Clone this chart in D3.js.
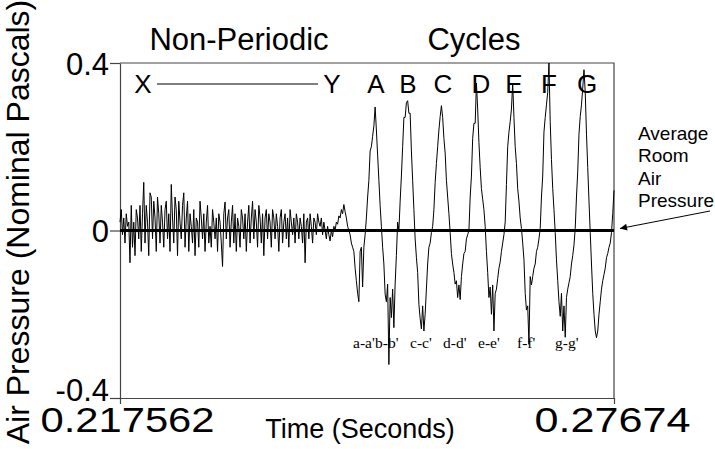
<!DOCTYPE html>
<html>
<head>
<meta charset="utf-8">
<script src="https://cdn.jsdelivr.net/npm/d3@7"></script>
<style>
  html, body { margin: 0; padding: 0; background: #fff; }
  svg { display: block; }
  text { font-family: "Liberation Sans", Arial, sans-serif; fill: #000; }
</style>
</head>
<body>
<svg id="chart" width="715" height="449"></svg>
<script>
// ---------- data ----------
const timeStart = 0.217562;
const timeEnd = 0.27674;
const xTickValues = [0.217562, 0.27674];
const xTickLabels = ["0.217562", "0.27674"];
const yTickValues = [-0.4, 0, 0.4];
const yTickLabels = ["-0.4", "0", "0.4"];

// Non-periodic part (nominal Pascals)
const nonPeriodicValues = [
  0.02, 0.05, -0.01, 0.03, -0.03, 0.04, 0.01, 0.02, -0.077, 0.06,
  -0.04, 0.02, -0.06, 0.05, 0.03, -0.02, 0.06, -0.05, 0.04, 0.115,
  -0.03, 0.06, 0.02, -0.06, 0.09, 0.08, -0.02, 0.07, 0.03, -0.05,
  0.08, 0.04, -0.03, 0.06, 0.02, -0.04, 0.05, 0.07, -0.02, 0.04,
  -0.05, 0.11, 0.03, -0.03, 0.08, 0.05, -0.06, 0.07, 0.02, -0.02,
  0.06, 0.09, -0.04, 0.03, 0.07, -0.05, 0.04, 0.01, -0.03, 0.05,
  -0.06, 0.03, 0.02, -0.04, 0.07, 0.03, -0.02, 0.04, -0.05, 0.02,
  0.06, -0.03, 0.01, -0.04, 0.05, 0.02, -0.02, 0.03, -0.05, 0.04,
  0.02, -0.03, -0.086, 0.04, 0.068, -0.02, 0.03, 0.05, -0.04, 0.02,
  0.06, -0.03, 0.04, -0.05, 0.03, 0.01, -0.04, 0.05, 0.03, -0.02,
  0.04, -0.05, 0.02, 0.06, -0.03, 0.03, 0.07, -0.02, 0.05, 0.02,
  -0.04, 0.06, 0.03, -0.03, 0.04, -0.06, 0.03, 0.05, -0.02, 0.04,
  0.02, -0.04, 0.05, 0.03, -0.02, 0.04, 0.01, -0.05, 0.03, 0.05,
  -0.03, 0.02, 0.04, -0.02, 0.03, -0.04, 0.05, 0.02, -0.01, 0.03,
  -0.03, 0.04, 0.02, -0.02, 0.03, 0.01, -0.03, 0.04, -0.077, 0.02,
  0.03, -0.02, 0.04, 0.01, -0.03, 0.03, 0.02, -0.01, 0.04, 0.02,
  0.01, 0.03, -0.01, 0.02, 0.0, -0.02, 0.01, -0.01, -0.025, 0.0,
  -0.015, 0.01, 0.0, 0.02, 0.015, 0.035, 0.03, 0.05, 0.04, 0.062,
  0.045, 0.03, 0.01
];

// Periodic part (cycles A..G)
const cycleValues = [
  0.0, -0.01, -0.03, -0.04, -0.05, -0.09, -0.12, -0.15, -0.17, -0.05,
  -0.04, -0.135, -0.04, -0.01, 0.03, 0.08, 0.12, 0.19, 0.2, 0.225,
  0.25, 0.295, 0.24, 0.18, 0.12, 0.06, 0.01, -0.04, -0.08, -0.152,
  -0.17, -0.128, -0.32, -0.16, -0.208, -0.14, -0.232, -0.128, -0.06, 0.02,
  0.0, 0.07, 0.13, 0.2, 0.27, 0.27, 0.305, 0.31, 0.28, 0.28,
  0.19, 0.12, 0.05, -0.02, -0.064, -0.1, -0.176, -0.21, -0.235, -0.18,
  -0.24, -0.2, -0.14, -0.08, -0.04, -0.03, -0.005, 0.01, 0.05, 0.115,
  0.16, 0.2, 0.24, 0.272, 0.298, 0.27, 0.22, 0.185, 0.12, 0.08,
  0.04, -0.005, -0.055, -0.08, -0.1, -0.128, -0.12, -0.16, -0.13, -0.165,
  -0.11, -0.08, -0.055, -0.05, -0.02, -0.01, 0.0, 0.08, 0.13, 0.22,
  0.256, 0.256, 0.352, 0.29, 0.21, 0.15, 0.1, 0.075, 0.05, 0.01,
  -0.05, -0.1, -0.16, -0.135, -0.2, -0.13, -0.24, -0.15, -0.14, -0.115,
  -0.09, -0.075, -0.05, -0.03, -0.01, 0.02, 0.11, 0.2, 0.235, 0.26,
  0.29, 0.352, 0.27, 0.2, 0.16, 0.1, 0.07, 0.03, 0.005, -0.03,
  -0.07, -0.15, -0.19, -0.18, -0.272, -0.11, -0.13, -0.11, -0.09, -0.08,
  -0.05, -0.04, -0.02, 0.005, 0.08, 0.13, 0.235, 0.27, 0.3, 0.33,
  0.4, 0.26, 0.17, 0.1, 0.05, -0.005, -0.07, -0.12, -0.17, -0.205,
  -0.15, -0.24, -0.18, -0.255, -0.16, -0.14, -0.125, -0.11, -0.08, -0.06,
  -0.035, 0.005, 0.08, 0.14, 0.23, 0.272, 0.3, 0.34, 0.384, 0.33,
  0.23, 0.15, 0.07, -0.005, -0.08, -0.15, -0.2, -0.24, -0.256, -0.24,
  -0.2, -0.17, -0.14, -0.12, -0.105, -0.09, -0.065, -0.055, -0.04, -0.03,
  -0.005, 0.04, 0.096
];

const peakLabels = ["A", "B", "C", "D", "E", "F", "G"];
const troughLabels = ["a-a'", "b-b'", "c-c'", "d-d'", "e-e'", "f-f'", "g-g'"];
const annotationLines = ["Average", "Room", "Air", "Pressure"];

(function () {
// ---------- build ----------
const pressure = nonPeriodicValues.concat(cycleValues);
const n = pressure.length;
const samples = pressure.map((v, i) => ({
  t: timeStart + (timeEnd - timeStart) * i / (n - 1),
  v: v
}));

const svg = d3.select("#chart");
const pl = 120, pr = 614, pt = 63, pb = 398;

const x = d3.scaleLinear().domain([timeStart, timeEnd]).range([pl, pr]);
const y = d3.scaleLinear().domain([-0.4, 0.4]).range([pb, pt]);

// plot frame (top and right)
svg.append("path")
  .attr("d", `M${pl},${pt}H${pr}V${pb}`)
  .attr("fill", "none").attr("stroke", "#444").attr("stroke-width", 1.2);

// y axis
const yLabelDy = ["0.08em", "0.36em", "0.36em"];
const yAxis = svg.append("g")
  .attr("transform", `translate(${pl},0)`)
  .call(d3.axisLeft(y).tickValues(yTickValues).tickSize(10).tickSizeOuter(0)
    .tickFormat((d, i) => yTickLabels[i]));
yAxis.select(".domain").attr("stroke", "#444").attr("stroke-width", 1.2);
yAxis.selectAll(".tick line").attr("stroke", "#444").attr("stroke-width", 1.2);
yAxis.selectAll(".tick text")
  .attr("x", -11).attr("dy", (d, i) => yLabelDy[i])
  .style("font-size", "31px").style("font-family", "'Liberation Sans', Arial, sans-serif");

// x axis
const xLabelWidths = [174, 156];
const xLabelShift = [7, -2];
const xAxis = svg.append("g")
  .attr("transform", `translate(0,${pb})`)
  .call(d3.axisBottom(x).tickValues(xTickValues).tickSize(6).tickSizeOuter(0)
    .tickFormat((d, i) => xTickLabels[i]));
xAxis.select(".domain").attr("stroke", "#444").attr("stroke-width", 1.2);
xAxis.selectAll(".tick line").attr("stroke", "#444").attr("stroke-width", 1.2);
xAxis.selectAll(".tick text")
  .attr("x", (d, i) => xLabelShift[i])
  .attr("y", 34).attr("dy", 0)
  .attr("textLength", (d, i) => xLabelWidths[i])
  .attr("lengthAdjust", "spacingAndGlyphs")
  .style("font-size", "35px").style("font-family", "'Liberation Sans', Arial, sans-serif");

// waveform
const line = d3.line().x(d => x(d.t)).y(d => y(d.v));
svg.append("path")
  .datum(samples)
  .attr("d", line)
  .attr("fill", "none")
  .attr("stroke", "#000")
  .attr("stroke-width", 1)
  .attr("stroke-linejoin", "miter");

// zero (average room pressure) line
svg.append("line")
  .attr("x1", pl).attr("x2", pr)
  .attr("y1", y(0)).attr("y2", y(0))
  .attr("stroke", "#000").attr("stroke-width", 3);

// axis titles
svg.append("text")
  .attr("x", 360).attr("y", 438)
  .attr("text-anchor", "middle")
  .style("font-size", "27px")
  .text("Time (Seconds)");

svg.append("text")
  .attr("transform", "translate(29,222) rotate(-90)")
  .attr("text-anchor", "middle")
  .style("font-size", "32px")
  .text("Air Pressure (Nominal Pascals)");

// section titles
svg.append("text").attr("x", 239).attr("y", 50).attr("text-anchor", "middle")
  .style("font-size", "31px").text("Non-Periodic");
svg.append("text").attr("x", 474).attr("y", 50).attr("text-anchor", "middle")
  .style("font-size", "31px").text("Cycles");

// X ---- Y
svg.append("text").attr("x", 143).attr("y", 93).attr("text-anchor", "middle")
  .style("font-size", "26px").text("X");
svg.append("text").attr("x", 332).attr("y", 93).attr("text-anchor", "middle")
  .style("font-size", "26px").text("Y");
svg.append("line").attr("x1", 157).attr("x2", 318).attr("y1", 84).attr("y2", 84)
  .attr("stroke", "#000").attr("stroke-width", 1);

// peak labels
const peakX = [376, 408, 443, 481, 514, 549, 587];
svg.selectAll(".peak").data(peakLabels).enter().append("text")
  .attr("class", "peak")
  .attr("x", (d, i) => peakX[i]).attr("y", 93)
  .attr("text-anchor", "middle")
  .style("font-size", "26px")
  .text(d => d);

// trough labels
const troughX = [353, 375, 410, 443, 478, 517, 555];
svg.selectAll(".trough").data(troughLabels).enter().append("text")
  .attr("class", "trough")
  .attr("x", (d, i) => troughX[i]).attr("y", 348)
  .style("font-family", "'Liberation Serif', 'Times New Roman', serif")
  .style("font-size", "15.5px")
  .text(d => d);

// annotation
svg.selectAll(".ann").data(annotationLines).enter().append("text")
  .attr("class", "ann")
  .attr("x", 638).attr("y", (d, i) => 140 + i * 22.3)
  .style("font-size", "19px")
  .text(d => d);

svg.append("defs").append("marker")
  .attr("id", "arrow").attr("viewBox", "0 0 10 10")
  .attr("refX", 10).attr("refY", 5)
  .attr("markerWidth", 9).attr("markerHeight", 7)
  .attr("markerUnits", "userSpaceOnUse")
  .attr("orient", "auto")
  .append("path").attr("d", "M0,0L10,5L0,10Z").attr("fill", "#000");

svg.append("line")
  .attr("x1", 710).attr("y1", 211).attr("x2", 620).attr("y2", 228.5)
  .attr("stroke", "#000").attr("stroke-width", 1)
  .attr("marker-end", "url(#arrow)");
})();
</script>
</body>
</html>
